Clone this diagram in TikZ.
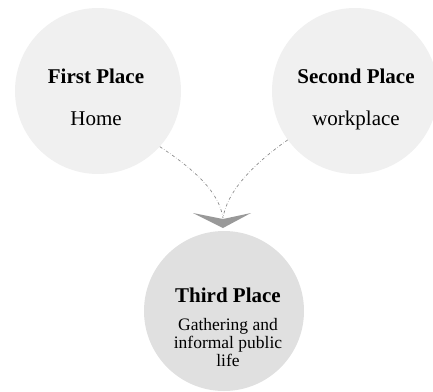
\documentclass[tikz,border=0pt]{standalone}
\usepackage{fontspec}
\setmainfont{Liberation Serif}
\begin{document}
\begin{tikzpicture}[x=1pt,y=-1pt,
  place/.style={circle,fill=#1,draw=none,minimum size=166pt,inner sep=0pt},
  ttl/.style={anchor=base,font=\fontsize{21}{24}\selectfont\bfseries},
  sub/.style={anchor=base,font=\fontsize{21}{24}\selectfont},
  sub3/.style={anchor=base,font=\fontsize{17.5}{18}\selectfont,align=center},
  link/.style={draw=black!45,dash dot,line width=0.7pt}]
\useasboundingbox (0,0) rectangle (433,391);
\node[place=black!6] (c1) at (98,91) {};
\node[place=black!6] (c2) at (355,91) {};
\node[place=black!12,minimum size=160pt] (c3) at (224,311) {};
\node[ttl] (t1) at (96,83) {First Place};
\node[sub] (s1) at (96,125) {Home};
\node[ttl] (t2) at (356,83) {Second Place};
\node[sub] (s2) at (356,125) {workplace};
\node[ttl] (t3) at (228,302) {Third Place};
\node[sub3,anchor=north] (s3) at (228,315) {Gathering and\\informal public\\life};
\coordinate (m) at (223,218);
\draw[link] (c1.-42) .. controls (195,170) and (219,192) .. (m);
\draw[link] (c2.216) .. controls (252,165) and (227,192) .. (m);
\fill[black!40] (193,213) -- (223,219) -- (251,213) -- (223,228) -- cycle;
\end{tikzpicture}
\end{document}
